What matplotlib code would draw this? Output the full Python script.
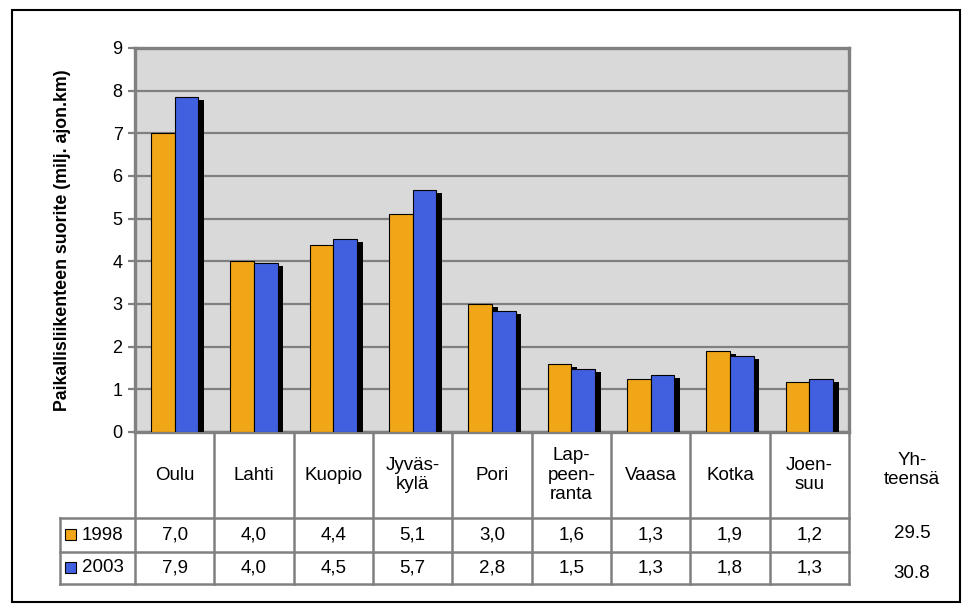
"""Paikallisliikenteen suorite 1998 / 2003 kaupungeittain."""

import matplotlib
matplotlib.use("Agg")
import matplotlib.pyplot as plt
import matplotlib.patheffects as pe
from matplotlib.patches import Rectangle
import numpy as np

plt.rcParams["font.family"] = ["Liberation Sans", "DejaVu Sans"]

cities = ["Oulu", "Lahti", "Kuopio", "Jyväs-\nkylä", "Pori", "Lap-\npeen-\nranta",
          "Vaasa", "Kotka", "Joen-\nsuu"]
years = ["1998", "2003"]
values_1998 = [7.0, 4.0, 4.38, 5.1, 3.0, 1.6, 1.25, 1.9, 1.18]
values_2003 = [7.85, 3.97, 4.52, 5.68, 2.83, 1.48, 1.33, 1.78, 1.25]
table_1998 = ["7,0", "4,0", "4,4", "5,1", "3,0", "1,6", "1,3", "1,9", "1,2"]
table_2003 = ["7,9", "4,0", "4,5", "5,7", "2,8", "1,5", "1,3", "1,8", "1,3"]
totals = ["29.5", "30.8"]
total_label = "Yh-\nteensä"
ylabel = "Paikallisliikenteen suorite (milj. ajon.km)"

ORANGE = "#F0A616"
BLUE = "#4160E0"
GRID = "#808080"
W, H = 974, 615

fig = plt.figure(figsize=(W / 100, H / 100), dpi=100)

# whole-figure pixel axes for border and table
px = fig.add_axes([0, 0, 1, 1])
px.set_xlim(0, W)
px.set_ylim(H, 0)
px.axis("off")
px.add_patch(Rectangle((12, 10), 948, 592, fill=False, ec="black", lw=1.5))

x0, x1, ytop, ybot = 135, 849, 48, 432
ax = fig.add_axes([x0 / W, 1 - ybot / H, (x1 - x0) / W, (ybot - ytop) / H])
ax.set_facecolor("#D9D9D9")

x = np.arange(len(cities))
bw = 0.3
shadow = [pe.SimplePatchShadow(offset=(4.0, -2.2), shadow_rgbFace="black", alpha=1.0), pe.Normal()]
ax.bar(x - bw / 2, values_1998, bw, color=ORANGE, edgecolor="black", lw=0.8,
       path_effects=shadow, zorder=3)
ax.bar(x + bw / 2, values_2003, bw, color=BLUE, edgecolor="black", lw=0.8,
       path_effects=shadow, zorder=4)

ax.set_xlim(-0.5, len(cities) - 0.5)
ax.set_ylim(0, 9)
ax.set_yticks(range(10))
ax.yaxis.grid(True, color=GRID, lw=1.6)
ax.set_axisbelow(True)
ax.set_xticks(np.arange(len(cities) + 1) - 0.5)
ax.set_xticklabels([])
ax.tick_params(axis="x", length=0)
ax.tick_params(axis="y", length=5, width=1.6, color=GRID, labelsize=13, pad=4)
for s in ax.spines.values():
    s.set_color(GRID)
    s.set_linewidth(2.4)
ax.set_ylabel(ylabel, fontsize=12.8, fontweight="bold", labelpad=30)

# data table below the plot
col_w = (x1 - x0) / len(cities)
head_b, row1_b, row2_b = 518, 552, 584
lw_t = 1.8
for i in range(len(cities) + 1):
    xx = x0 + i * col_w
    px.plot([xx, xx], [ybot, row2_b], color=GRID, lw=lw_t)
px.plot([60, x1], [head_b, head_b], color=GRID, lw=lw_t)
px.plot([60, x1], [row1_b, row1_b], color=GRID, lw=lw_t)
px.plot([60, x1], [row2_b, row2_b], color=GRID, lw=lw_t)
px.plot([60, 60], [head_b, row2_b], color=GRID, lw=lw_t)

fs = 13.5
for i, name in enumerate(cities):
    cx = x0 + (i + 0.5) * col_w
    px.text(cx, (ybot + head_b) / 2, name, ha="center", va="center", fontsize=fs,
            linespacing=1.2)
    px.text(cx, (head_b + row1_b) / 2, table_1998[i], ha="center", va="center", fontsize=fs)
    px.text(cx, (row1_b + row2_b) / 2, table_2003[i], ha="center", va="center", fontsize=fs)

for yr, col, yc in zip(years, [ORANGE, BLUE], [(head_b + row1_b) / 2, (row1_b + row2_b) / 2]):
    px.add_patch(Rectangle((65, yc - 6), 11, 11, fc=col, ec="black", lw=0.8))
    px.text(82, yc, yr, ha="left", va="center", fontsize=fs)

px.text(912, 470, total_label, ha="center", va="center", fontsize=fs, linespacing=1.2)
px.text(912, 534, totals[0], ha="center", va="center", fontsize=fs)
px.text(912, 573, totals[1], ha="center", va="center", fontsize=fs)

fig.savefig("out.png", dpi=100)
